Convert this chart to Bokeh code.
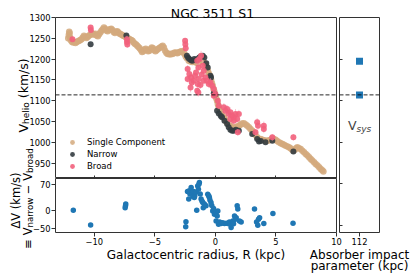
import math
from bokeh.plotting import figure
from bokeh.layouts import row, column
from bokeh.models import Label, Legend, LegendItem, Span, FixedTicker, Range1d, LinearAxis
from bokeh.embed import file_html
from bokeh.resources import INLINE

FONT = "DejaVu Sans"

# ---------------- data ----------------
title_text = "NGC 3511 S1"

single_r = [-12.15, -12.1, -12.07, -12.03, -12.0, -11.95, -11.85, -11.75, -11.65, -11.55,
            -11.45, -11.35, -11.25, -11.15, -11.05, -10.95, -10.85, -10.75, -10.65, -10.55,
            -10.45, -10.35, -10.2, -10.1, -10.0, -9.9, -9.8, -9.7, -9.6, -9.5,
            -9.4, -9.3, -9.2, -9.1, -9.0, -8.9, -8.8, -8.7, -8.6, -8.5,
            -8.4, -8.3, -8.2, -8.1, -8.0, -7.9, -7.8, -7.7, -7.6, -7.5,
            -7.4, -7.25, -7.15, -7.05, -6.95, -6.85, -6.75, -6.65, -6.55, -6.45,
            -6.35, -6.25, -6.15, -6.05, -5.95, -5.85, -5.75, -5.65, -5.55, -5.45,
            -5.35, -5.25, -5.15, -5.05, -4.95, -4.85, -4.75, -4.65, -4.55, -4.45,
            -4.35, -4.25, -4.15, -4.05, -3.95, -3.85, -3.75, -3.65, -3.55, -3.45,
            -3.35, -3.25, -3.15, -3.05, -2.95, -2.85, -2.75, -2.65, -2.55, -2.45,
            -2.35, -2.2, -2.05, -1.9, -1.75, -1.6, -1.45, -1.3, -1.15, -1.05,
            -0.95, -0.85, -0.77, -0.7, -0.62, -0.55, -0.5, -0.42, -0.35, -0.28,
            -0.22, -0.15, -0.08, 0.0, 0.07, 0.14, 0.2, 0.26, 0.33, 0.4,
            0.5, 0.6, 0.7, 0.8, 0.9, 1.0, 1.1, 1.2, 1.35, 1.5,
            1.66, 1.8, 1.95, 2.07, 2.2, 2.35, 2.5, 2.63, 2.77, 2.9,
            3.05, 3.18, 3.3, 3.45, 3.6, 3.73, 3.87, 4.0, 4.15, 4.3,
            4.45, 4.6, 4.7, 4.82, 4.97, 5.1, 5.25, 5.4, 5.53, 5.66,
            5.8, 5.95, 6.08, 6.2, 6.32, 6.44, 6.56, 6.67, 6.77, 6.9,
            7.04, 7.18, 7.32, 7.46, 7.6, 7.74, 7.87, 8.0, 8.15, 8.28,
            8.43, 8.57, 8.7, 8.82, 8.92]
single_v = [1250, 1258, 1266, 1262, 1252, 1246, 1242, 1240, 1241, 1239,
            1241, 1243, 1244, 1246, 1248, 1252, 1256, 1254, 1251, 1253,
            1256, 1258, 1262, 1260, 1259, 1261, 1257, 1255, 1260, 1264,
            1268, 1272, 1276, 1273, 1269, 1267, 1270, 1272, 1273, 1270,
            1265, 1263, 1266, 1267, 1264, 1261, 1260, 1258, 1256, 1255,
            1253, 1251, 1249, 1247, 1246, 1244, 1240, 1237, 1235, 1232,
            1229, 1226, 1222, 1217, 1219, 1223, 1225, 1222, 1219, 1220,
            1224, 1228, 1226, 1221, 1219, 1221, 1224, 1226, 1228, 1230,
            1232, 1228, 1220, 1215, 1212, 1213, 1211, 1213, 1212, 1214,
            1216, 1215, 1214, 1216, 1217, 1218, 1219, 1216, 1212, 1206,
            1202, 1196, 1194, 1193, 1195, 1192, 1190, 1196, 1200, 1196,
            1192, 1188, 1184, 1178, 1172, 1166, 1162, 1158, 1150, 1142,
            1136, 1128, 1122, 1112, 1106, 1100, 1092, 1086, 1080, 1074,
            1068, 1064, 1060, 1055, 1050, 1046, 1042, 1040, 1038, 1036,
            1036, 1038, 1040, 1042, 1045, 1046, 1043, 1040, 1036, 1032,
            1028, 1024, 1018, 1012, 1008, 1008, 1006, 1005, 1004, 1004,
            1005, 1007, 1009, 1008, 1006, 1003, 1000, 998, 996, 994,
            992, 990, 988, 986, 983, 980, 982, 986, 988, 986,
            984, 980, 976, 972, 968, 964, 960, 956, 952, 948,
            944, 940, 936, 933, 930]

narrow_r = [-10.3, -7.35, -2.35, -2.25, -2.15, -2.01, -1.9, -1.74, -1.6, -1.45,
            -1.33, -1.2, -1.04, -0.91, -0.75, -0.63, -0.41, -0.36, -0.13, -0.02,
            0.14, 0.28, 0.45, 0.55, 0.75, 0.97, 1.1, 1.24, 1.38, 1.52,
            1.7, 1.94, 3.04, 3.45, 3.6, 3.75, 4.14, 4.7, 6.44]
narrow_v = [1236, 1257, 1208, 1203, 1200, 1197, 1196, 1200, 1198, 1201,
            1204, 1206, 1208, 1204, 1190, 1180, 1160, 1156, 1118, 1115,
            1076, 1069, 1063, 1060, 1052, 1044, 1036, 1030, 1028, 1028,
            1030, 1028, 1020, 1008, 1002, 1003, 1000, 1004, 978]

broad_r = [-11.8, -10.3, -10.28, -7.3, -7.3, -7.27, -2.5, -2.48, -2.45, -2.29,
           -2.15, -2.29, -2.01, -1.95, -2.05, -1.79, -1.68, -1.6, -1.46, -1.5,
           -1.41, -1.24, -1.13, -1.04, -0.96, -1.32, -1.18, -1.5, -1.4, -1.38,
           -0.96, -0.82, -0.69, -0.55, -0.41, -0.27, -0.13, -0.13, 0.0, 0.2,
           0.28, 0.7, 0.83, 0.97, 1.1, 1.24, 1.38, 1.52, 1.66, 1.8,
           1.94, 1.24, 1.52, 1.85, 3.31, 3.45, 3.52, 4.0, 4.0, 4.7,
           6.44]
broad_v = [1248, 1276, 1270, 1248, 1241, 1235, 1244, 1236, 1226, 1176,
           1164, 1152, 1156, 1144, 1132, 1148, 1160, 1168, 1140, 1124,
           1120, 1138, 1163, 1184, 1148, 1200, 1208, 1196, 1180, 1152,
           1172, 1156, 1148, 1140, 1144, 1136, 1128, 1112, 1116, 1100,
           1088, 1084, 1076, 1080, 1068, 1072, 1064, 1060, 1068, 1056,
           1068, 1056, 1052, 1024, 1024, 1048, 1040, 1040, 1032, 1012,
           1012]
broad_err = [5, 5, 5, 8, 8, 8, 6, 6, 10, 10,
             10, 8, 10, 10, 12, 10, 10, 12, 12, 12,
             10, 10, 12, 15, 12, 12, 12, 10, 10, 10,
             12, 10, 10, 10, 10, 10, 8, 8, 8, 8,
             8, 10, 10, 10, 10, 12, 10, 10, 12, 10,
             10, 10, 10, 8, 8, 10, 10, 10, 10, 8,
             8]

dv_r = [-11.73, -10.3, -7.4, -7.42, -7.45, -2.43, -2.45, -2.3, -2.2, -2.15,
        -2.1, -2.0, -1.95, -1.9, -1.85, -1.8, -1.74, -1.7, -1.6, -1.54,
        -1.46, -1.4, -1.32, -1.36, -1.25, -1.18, -1.1, -1.04, -0.91, -1.0,
        -0.77, -0.63, -0.55, -0.5, -0.45, -0.36, -0.3, -0.22, -0.15, -0.08,
        0.06, 0.15, 0.2, 0.06, 0.26, 0.35, 0.47, 0.6, 0.75, 0.9,
        1.02, 1.16, 1.3, 1.25, 1.44, 1.5, 1.58, 1.65, 1.72, 1.8,
        1.85, 1.99, 2.13, 3.23, 3.56, 3.65, 3.4, 3.5, 4.0, 4.75,
        6.41]
dv = [0, -41, 17, 12, 7, -32, -46, 52, 31, 54,
      45, 63, 48, 44, 38, 52, 35, 40, 50, 0,
      67, 58, 77, 72, 45, 31, 25, 21, 17, 7,
      12, 44, 40, 36, 28, 21, 13, -2, 5, -11,
      -7, -16, -2, -30, -39, -33, -37, -35, -37, -36,
      -37, -33, -48, -40, -30, -38, -16, -25, -21, 12,
      3, -30, -33, 3, -25, -21, -33, -42, -37, -9,
      -36]

absorber_b = [112, 112]
absorber_v = [1195, 1114]
v_sys = 1114

r_ticks = [-10, -5, 0, 5, 10]
v_ticks = [950, 1000, 1050, 1100, 1150, 1200, 1250, 1300]
dv_ticks = [-50, 0, 70]
b_ticks = [112]
vr_ticks = [800, 900, 1000, 1100, 1200]

legend_labels = ["Single Component", "Narrow", "Broad"]

# ---------------- style ----------------
TAN = "#D4A97C"
DARK = "#333C40"
PINK = "#F2607C"
PINK_ERR = "#F6A3B5"
BLUE = "#1f77b4"
EDGE = "#333333"
TICK_SIZE = "8.3px"

W, H = 415, 274
x_rng = Range1d(-13.2, 10)
V_LO, V_HI = 913, 1300
TOP_FH = 161
RIGHT_FH = 215


def style_fig(p):
    p.grid.visible = False
    p.outline_line_color = EDGE
    p.outline_line_width = 1
    p.background_fill_color = "white"


def style_axis(ax, labels=True, tick_in=0, tick_out=4):
    ax.axis_line_color = None
    ax.major_tick_in = tick_in
    ax.major_tick_out = tick_out
    ax.minor_tick_in = 0
    ax.minor_tick_out = 0
    ax.major_tick_line_color = EDGE
    ax.major_label_standoff = 1
    ax.major_label_text_font = FONT
    ax.major_label_text_color = "black"
    ax.major_label_text_font_size = TICK_SIZE if labels else "2px"
    if not labels:
        ax.major_label_text_alpha = 0
        ax.major_label_standoff = 0


# ---------------- top panel ----------------
top = figure(width=344, height=178, x_range=x_rng, y_range=Range1d(V_LO, V_HI),
             x_axis_location=None, y_axis_location="left", toolbar_location=None,
             output_backend="svg", min_border_left=55, min_border_right=8,
             min_border_top=17, min_border_bottom=0)
style_fig(top)
style_axis(top.yaxis[0])
top.yaxis[0].ticker = FixedTicker(ticks=v_ticks)

top.add_layout(Span(location=v_sys, dimension="width", line_color="black",
                    line_dash="4 2", line_width=1, line_alpha=0.85))

r_single = top.scatter(single_r, single_v, size=6.5, color=TAN, alpha=0.85, line_width=0)
r_narrow = top.scatter(narrow_r, narrow_v, size=6, color=DARK, alpha=0.9, line_width=0)
b_lo = [v - e for v, e in zip(broad_v, broad_err)]
b_hi = [v + e for v, e in zip(broad_v, broad_err)]
top.segment(broad_r, b_lo, broad_r, b_hi, line_color=PINK_ERR, line_width=1, line_alpha=0.6)
r_broad = top.scatter(broad_r, broad_v, size=6, color=PINK, alpha=0.9, line_width=0)

legend = Legend(items=[LegendItem(label=legend_labels[0], renderers=[r_single]),
                       LegendItem(label=legend_labels[1], renderers=[r_narrow]),
                       LegendItem(label=legend_labels[2], renderers=[r_broad])],
                location=(10, 6), orientation="vertical", glyph_width=14, glyph_height=12,
                label_height=12, label_standoff=8, spacing=0, padding=0, margin=0,
                border_line_alpha=0, background_fill_alpha=0,
                label_text_font=FONT, label_text_font_size="8.5px",
                label_text_color="black")
top.add_layout(legend)

# ---------------- bottom panel ----------------
bot = figure(width=344, height=132, x_range=x_rng, y_range=Range1d(-62, 88),
             x_axis_location="below", y_axis_location="left", toolbar_location=None,
             output_backend="svg", min_border_left=55, min_border_right=8,
             min_border_top=38, min_border_bottom=40, border_fill_color=None,
             margin=(-38, 0, 0, 0))
style_fig(bot)
style_axis(bot.xaxis[0])
style_axis(bot.yaxis[0])
bot.xaxis[0].ticker = FixedTicker(ticks=r_ticks)
bot.xaxis[0].major_label_overrides = {t: str(t).replace("-", "\u2212") for t in r_ticks}
bot.yaxis[0].ticker = FixedTicker(ticks=dv_ticks)
bot.yaxis[0].major_label_overrides = {t: str(t).replace("-", "\u2212") for t in dv_ticks}
top_edge = LinearAxis(ticker=FixedTicker(ticks=r_ticks))
style_axis(top_edge, labels=False, tick_in=0, tick_out=3)
bot.add_layout(top_edge, "above")

bot.scatter(dv_r, dv, size=5.5, color=BLUE, line_width=0)

# ---------------- right panel ----------------
vr_lo = V_HI - (V_HI - V_LO) * RIGHT_FH / TOP_FH
right = figure(width=114, height=272, x_range=Range1d(111, 113), y_range=Range1d(vr_lo, V_HI),
               x_axis_location="below", y_axis_location="left", toolbar_location=None,
               output_backend="svg", min_border_left=39, min_border_right=35,
               min_border_top=17, min_border_bottom=40, border_fill_color=None,
               margin=(0, 0, 0, -44))
style_fig(right)
style_axis(right.xaxis[0])
right.xaxis[0].ticker = FixedTicker(ticks=b_ticks)
style_axis(right.yaxis[0], labels=False, tick_in=3, tick_out=0)
right.yaxis[0].ticker = FixedTicker(ticks=vr_ticks)

right.add_layout(Span(location=v_sys, dimension="width", line_color="black",
                      line_dash="4 2", line_width=1, line_alpha=0.85))
right.scatter(absorber_b, absorber_v, marker="square", size=7, color=BLUE, line_width=0)

right.add_layout(Label(x=112, y=1040, x_offset=-3, text="V", text_font=FONT,
                       text_font_size="12.5px", text_align="right", text_baseline="alphabetic"))
right.add_layout(Label(x=112, y=1040, x_offset=-3, y_offset=-3, text="sys", text_font=FONT,
                       text_font_size="9px", text_font_style="italic", text_align="left",
                       text_baseline="alphabetic"))

# ---------------- transparent overlay holding titles / axis labels (page pixels) ----------------
ov = figure(width=W, height=H, x_range=Range1d(0, W), y_range=Range1d(H, 0),
            x_axis_location=None, y_axis_location=None, toolbar_location=None,
            output_backend="svg", min_border=0, border_fill_color=None,
            background_fill_color=None, outline_line_color=None,
            margin=(-272, 0, 0, 0))
ov.grid.visible = False


def txt(text, x, y, size, angle=0.0, align="left", style="normal"):
    ov.add_layout(Label(x=x, y=y, text=text, angle=angle, text_font=FONT,
                        text_font_size=f"{size}px", text_align=align,
                        text_baseline="alphabetic", text_font_style=style,
                        text_color="black"))


UP = math.pi / 2
txt(title_text, 212, 12.7, 12.5, align="center")
# V_helio (km/s)
txt("V", 23, 123.5, 12.5, angle=UP, align="right")
txt("helio", 25.5, 123.5, 9, angle=UP, align="left")
txt("(km/s)", 23, 97.7, 12.5, angle=UP, align="left")
# ΔV (km/s) / ≡ V_narrow − V_broad
txt("\u0394V (km/s)", 15, 200, 11.5, angle=UP, align="center")
txt("\u2261 V", 27, 227, 11.5, angle=UP, align="right")
txt("narrow", 29.5, 227, 8.6, angle=UP, align="left")
txt("\u2212 V", 27, 172.5, 11.5, angle=UP, align="right")
txt("broad", 29.5, 172.5, 8.6, angle=UP, align="left")
# x labels
txt("Galactocentric radius, R (kpc)", 195.5, 254, 12, align="center")
txt("Absorber impact", 359, 254, 12, align="center")
txt("parameter (kpc)", 359, 265.5, 12, align="center")

layout = column(row(column(top, bot), right), ov)

open("out.html", "w").write(file_html(layout, INLINE))
